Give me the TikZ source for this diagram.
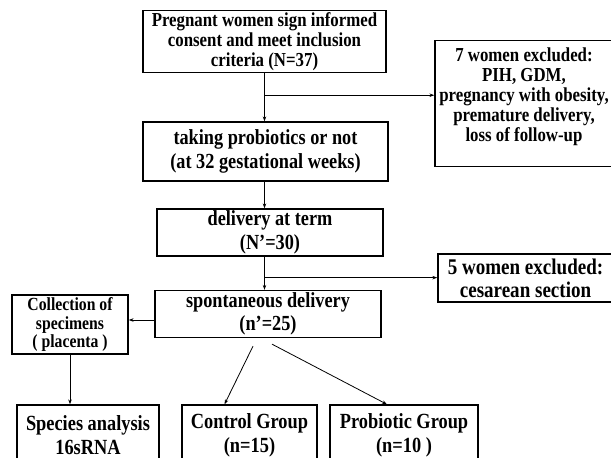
\documentclass[tikz,border=0pt]{standalone}
\usepackage{fontspec}
\setmainfont{Liberation Serif}[FakeStretch=0.85]
\usetikzlibrary{arrows.meta}

\begin{document}
\begin{tikzpicture}[x=1pt,y=-1pt,
    box/.style={draw, line width=1.3pt, align=center, inner sep=2pt},
    txtS/.style={font=\fontsize{19.8}{20}\selectfont\bfseries},
    txtC/.style={font=\fontsize{18.5}{18.5}\selectfont\bfseries},
    txtM/.style={font=\fontsize{21.5}{23.5}\selectfont\bfseries},
    txtL/.style={font=\fontsize{22.4}{23}\selectfont\bfseries},
    txtB/.style={font=\fontsize{21.6}{24}\selectfont\bfseries},
    arr/.style={line width=0.8pt, -{Stealth[length=5pt,width=3.5pt]}}]
  \useasboundingbox (0,0) rectangle (611,458);

  % Hauptkette
  \node[box, txtS, minimum width=243pt, minimum height=59pt] (consent) at (264.5,41.5)
    {Pregnant women sign informed\\consent and meet inclusion\\criteria (N=37)};
  \node[box, txtM, minimum width=245pt, minimum height=59pt] (probio) at (265.5,151.5)
    {taking probiotics or not\\(at 32 gestational weeks)};
  \node[box, txtM, minimum width=226pt, minimum height=47pt] (term) at (270,232.5)
    {delivery at term\\(N’=30)};
  \node[box, txtM, minimum width=226pt, minimum height=46pt] (spont) at (268,314)
    {spontaneous delivery\\(n’=25)};

  % Ausschluesse
  \node[box, txtS, minimum width=178pt, text depth=18pt, inner ysep=7pt, anchor=north] (excl1) at (524,40)
    {7 women excluded:\\PIH, GDM,\\pregnancy with obesity,\\premature delivery,\\loss of follow-up};
  \node[box, txtL, minimum width=175pt, minimum height=48pt] (excl2) at (525.5,278)
    {5 women excluded:\\cesarean section};

  % Proben und Gruppen
  \node[box, txtC, minimum width=116pt, minimum height=59pt] (collect) at (70,324.5)
    {Collection of\\specimens\\( placenta )};
  \node[box, txtB, minimum width=142pt, minimum height=60pt] (species) at (88,435)
    {Species analysis\\16sRNA};
  \node[box, txtB, minimum width=135pt, minimum height=60pt] (control) at (249.5,435)
    {Control Group\\(n=15)};
  \node[box, txtB, minimum width=148pt, minimum height=60pt] (probiotic) at (404,435)
    {Probiotic Group\\(n=10 )};

  % Verzweigungspunkte
  \path (consent.south) ++(0,22) coordinate (j1);
  \path (consent.south |- term.south) ++(0,21) coordinate (j2);
  \path (spont.west) ++(0,6) coordinate (j3);
  \path (spont.south) ++(-15,8) coordinate (d1);
  \path (spont.south) ++(4,6) coordinate (d2);

  % Pfeile
  \draw[arr] (consent.south) -- (consent.south |- probio.north);
  \draw[arr] (j1) -- (j1 -| excl1.west);
  \draw[arr] (consent.south |- probio.south) -- (consent.south |- term.north);
  \draw[arr] (consent.south |- term.south) -- (consent.south |- spont.north);
  \draw[arr] (j2) -- (j2 -| excl2.west);
  \draw[arr] (j3) -- (j3 -| collect.east);
  \draw[arr] (collect.south) -- (collect.south |- species.north);
  \draw[arr] (d1) -- ([xshift=-25pt]control.north);
  \draw[arr] (d2) -- ([xshift=-17pt]probiotic.north);
\end{tikzpicture}
\end{document}
